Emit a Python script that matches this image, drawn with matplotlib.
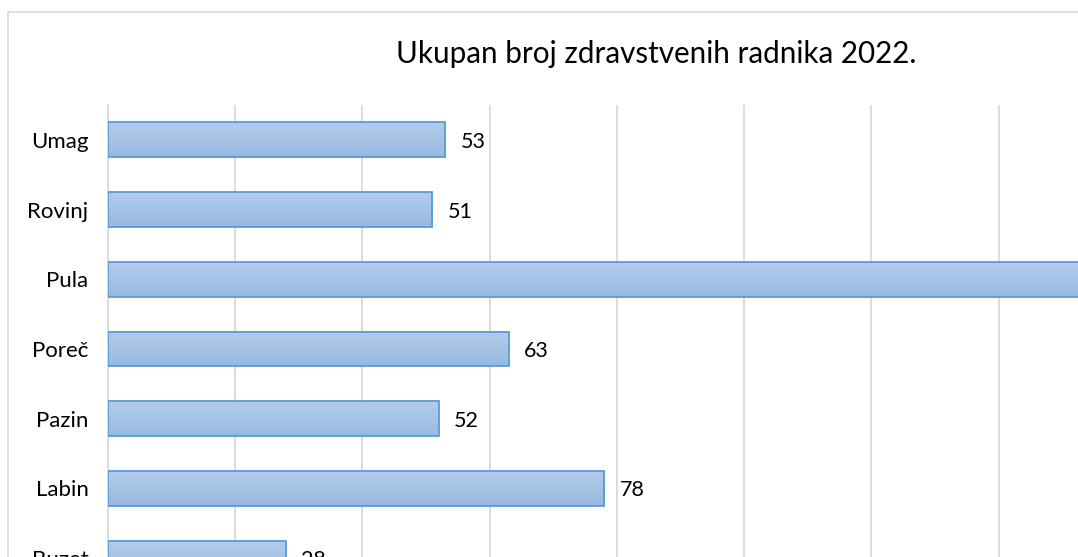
import numpy as np
import matplotlib.pyplot as plt
from matplotlib.patches import Rectangle
from matplotlib.colors import LinearSegmentedColormap

# Data (bottom to top, as in the chart)
gradovi = ['Buzet', 'Labin', 'Pazin', 'Poreč', 'Pula', 'Rovinj', 'Umag']
radnici = [28, 78, 52, 63, 175, 51, 53]

plt.rcParams['font.family'] = ['Lato', 'DejaVu Sans']

fig = plt.figure(figsize=(10.78, 5.57), dpi=100)

# outer chart frame (cropped on the right and bottom)
fig.patches.append(Rectangle((8 / 1078, -0.1), 1.2, 1.1 - 12 / 557, transform=fig.transFigure,
                             fill=False, edgecolor='#d9d9d9', linewidth=1.2))

ax = fig.add_axes([108 / 1078, 1 - 105 / 557 - 488 / 557, 1145 / 1078, 488 / 557])

xmax = 180
y = np.arange(len(gradovi))
bar_h = 0.5
grad = LinearSegmentedColormap.from_list('g', ['#b3cdea', '#97b9e2'])
for yi, v in zip(y, radnici):
    ax.imshow(np.linspace(1, 0, 50).reshape(-1, 1), cmap=grad, aspect='auto',
              extent=(0, v, yi + bar_h / 2, yi - bar_h / 2), zorder=2, interpolation='bilinear')
    ax.add_patch(Rectangle((0, yi - bar_h / 2), v, bar_h, fill=False,
                           edgecolor='#5b9bd5', linewidth=1.3, zorder=3))
    # label of the longest bar falls outside the visible crop
    if v < 150:
        ax.text(v + 2.4, yi, str(v), va='center_baseline', ha='left', fontsize=15.5, color='#000000')

ax.set_xlim(0, xmax)
ax.set_ylim(len(gradovi) - 0.5, -0.5)
ax.invert_yaxis()
ax.set_yticks(y)
ax.set_yticklabels(gradovi, fontsize=16)
ax.set_xticks(np.arange(0, xmax + 1, 20))
ax.tick_params(axis='x', length=0, labelbottom=False)
ax.tick_params(axis='y', length=0, pad=14)
ax.grid(axis='x', color='#d9d9d9', linewidth=1.3, zorder=0)
ax.set_axisbelow(True)
for s in ['top', 'right', 'bottom']:
    ax.spines[s].set_visible(False)
ax.spines['left'].set_color('#d9d9d9')
ax.spines['left'].set_linewidth(1.3)

fig.text(656 / 1078, 1 - 63 / 557, 'Ukupan broj zdravstvenih radnika 2022.',
         ha='center', va='baseline', fontsize=21.3, color='#000000')

fig.savefig('out.png', dpi=100)
